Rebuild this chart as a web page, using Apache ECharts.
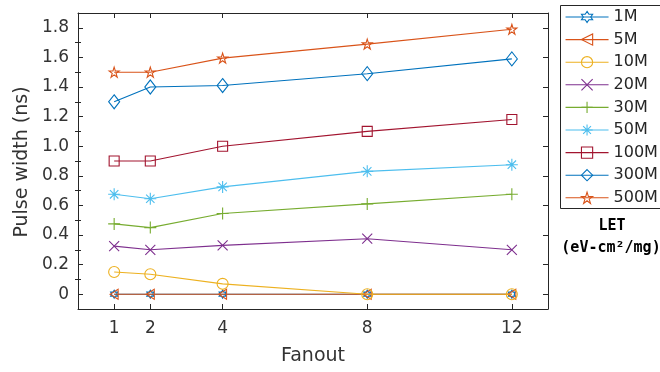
<!DOCTYPE html>
<html><head><meta charset="utf-8">
<script src="https://cdn.jsdelivr.net/npm/echarts@6/dist/echarts.min.js"></script>
<style>html,body{margin:0;padding:0;background:#fff}#c{width:660px;height:372px}</style>
</head><body><div id="c"></div>
<script>
const fanout = [1, 2, 4, 8, 12];
const seriesNames = ['1M','5M','10M','20M','30M','50M','100M','300M','500M'];
const v1M   = [0, 0, 0, 0, 0];
const v5M   = [0, 0, 0, 0, 0];
const v10M  = [0.15, 0.135, 0.07, 0, 0];
const v20M  = [0.325, 0.30, 0.33, 0.375, 0.30];
const v30M  = [0.475, 0.45, 0.545, 0.61, 0.675];
const v50M  = [0.675, 0.645, 0.725, 0.83, 0.875];
const v100M = [0.90, 0.90, 1.0, 1.10, 1.18];
const v300M = [1.30, 1.40, 1.41, 1.49, 1.59];
const v500M = [1.50, 1.50, 1.595, 1.69, 1.79];
const yTicks = [0, 0.2, 0.4, 0.6, 0.8, 1.0, 1.2, 1.4, 1.6, 1.8];
const yMinor = [0.1, 0.3, 0.5, 0.7, 0.9, 1.1, 1.3, 1.5, 1.7];
const xTicks = [1, 2, 4, 8, 12];

const values = [v1M, v5M, v10M, v20M, v30M, v50M, v100M, v300M, v500M];
const colors = ['#0072BD','#D95319','#EDB120','#7E2F8E','#77AC30','#4DBEEE','#A2142F','#0072BD','#D95319'];
const symbols = [
  'path://M5,0L6.44,2.5L9.33,2.5L7.89,5L9.33,7.5L6.44,7.5L5,10L3.56,7.5L0.67,7.5L2.11,5L0.67,2.5L3.56,2.5Z',
  'path://M0,5L10,0L10,10Z',
  'circle',
  'path://M0,0L10,10M10,0L0,10',
  'path://M5,0L5,10M0,5L10,5',
  'path://M5,0L5,10M0,5L10,5M1.5,1.5L8.5,8.5M8.5,1.5L1.5,8.5',
  'path://M0,0L10,0L10,10L0,10Z',
  'path://M5,0L10,5L5,10L0,5Z',
  'path://M5,0L6.12,3.45L9.76,3.45L6.82,5.59L7.94,9.05L5,6.91L2.06,9.05L3.18,5.59L0.24,3.45L3.88,3.45Z'
];
const sizesArr = [[7,8],[8,10],[11,11],[10,10],[12,12],[12,12],[10,10],[11,14],[10,10]];

const FONT = 'DejaVu Sans';
const AX = '#262626';
const TXT = '#333333';
const CLEAR = 'rgba(255,255,255,0)';

const series = seriesNames.map((n, i) => ({
  name: n,
  type: 'line',
  xAxisIndex: 0,
  yAxisIndex: 0,
  data: fanout.map((x, j) => [x, values[i][j]]),
  symbol: symbols[i],
  symbolSize: sizesArr[i],
  symbolKeepAspect: false,
  showAllSymbol: true,
  lineStyle: { color: colors[i], width: 1.1 },
  itemStyle: { color: CLEAR, borderColor: colors[i], borderWidth: 1.1 },
  emphasis: { disabled: true },
  animation: false,
  z: 2 + i
}));

const legendData = seriesNames.map((n, i) => ({
  name: n,
  itemStyle: { color: CLEAR, borderColor: colors[i], borderWidth: 1.1 },
  lineStyle: { color: colors[i], width: 1.1 }
}));

const chart = echarts.init(document.getElementById('c'), null, { renderer: 'canvas' });
const gridBox = { left: 78, top: 13, width: 470, height: 296 };
const baseY = { type: 'value', min: -0.1, max: 1.9, splitLine: { show: false } };
chart.setOption({
  animation: false,
  backgroundColor: '#fff',
  grid: gridBox,
  xAxis: [
    { type: 'value', position: 'bottom', min: 0, max: 13, splitLine: { show: false },
      axisLine: { show: true, onZero: false, lineStyle: { color: AX, width: 1 } },
      axisTick: { show: true, inside: true, length: 5, customValues: xTicks, lineStyle: { color: AX } },
      axisLabel: { show: true, customValues: xTicks, margin: 11, fontFamily: FONT, fontSize: 17, color: TXT } },
    { type: 'value', position: 'top', min: 0, max: 13, splitLine: { show: false },
      axisLine: { show: true, onZero: false, lineStyle: { color: AX, width: 1 } },
      axisTick: { show: true, inside: true, length: 5, customValues: xTicks, lineStyle: { color: AX } },
      axisLabel: { show: false } }
  ],
  yAxis: [
    Object.assign({}, baseY, { position: 'left',
      axisLine: { show: true, onZero: false, lineStyle: { color: AX, width: 1 } },
      axisTick: { show: true, inside: true, length: 5, customValues: yTicks, lineStyle: { color: AX } },
      axisLabel: { show: true, customValues: yTicks, margin: 9, fontFamily: FONT, fontSize: 17, color: TXT,
        formatter: v => (Math.abs(v) < 1e-9 ? '0' : v.toFixed(1)) } }),
    Object.assign({}, baseY, { position: 'left',
      axisLine: { show: false },
      axisTick: { show: true, inside: true, length: 3, customValues: yMinor, lineStyle: { color: AX } },
      axisLabel: { show: false } }),
    Object.assign({}, baseY, { position: 'right',
      axisLine: { show: true, onZero: false, lineStyle: { color: AX, width: 1 } },
      axisTick: { show: true, inside: true, length: 5, customValues: yTicks, lineStyle: { color: AX } },
      axisLabel: { show: false } }),
    Object.assign({}, baseY, { position: 'right',
      axisLine: { show: false },
      axisTick: { show: true, inside: true, length: 3, customValues: yMinor, lineStyle: { color: AX } },
      axisLabel: { show: false } })
  ],
  legend: {
    orient: 'vertical',
    left: 565, top: 9,
    itemWidth: 43, itemHeight: 14, itemGap: 6.6,
    padding: 0,
    selectedMode: false,
    itemStyle: { color: CLEAR },
    textStyle: { fontFamily: FONT, fontSize: 16, color: AX },
    data: legendData
  },
  graphic: [
    { type: 'rect', shape: { x: 560.5, y: 5.5, width: 110, height: 203 },
      style: { fill: 'none', stroke: AX, lineWidth: 1 }, silent: true },
    { type: 'text', x: 22, y: 162, rotation: Math.PI / 2,
      style: { text: 'Pulse width (ns)', fontFamily: FONT, fontSize: 19, fill: TXT, align: 'center', verticalAlign: 'middle' } },
    { type: 'text', x: 313, y: 356,
      style: { text: 'Fanout', fontFamily: FONT, fontSize: 19, fill: TXT, align: 'center', verticalAlign: 'middle' } },
    { type: 'text', x: 612, y: 226,
      style: { text: 'LET', fontFamily: 'DejaVu Sans Mono', fontWeight: 'bold', fontSize: 15, fill: '#000', align: 'center', verticalAlign: 'middle' } },
    { type: 'text', x: 611, y: 248,
      style: { text: '(eV-cm²/mg)', fontFamily: 'DejaVu Sans Mono', fontWeight: 'bold', fontSize: 15, fill: '#000', align: 'center', verticalAlign: 'middle' } }
  ],
  series: series
});
</script>
</body></html>
